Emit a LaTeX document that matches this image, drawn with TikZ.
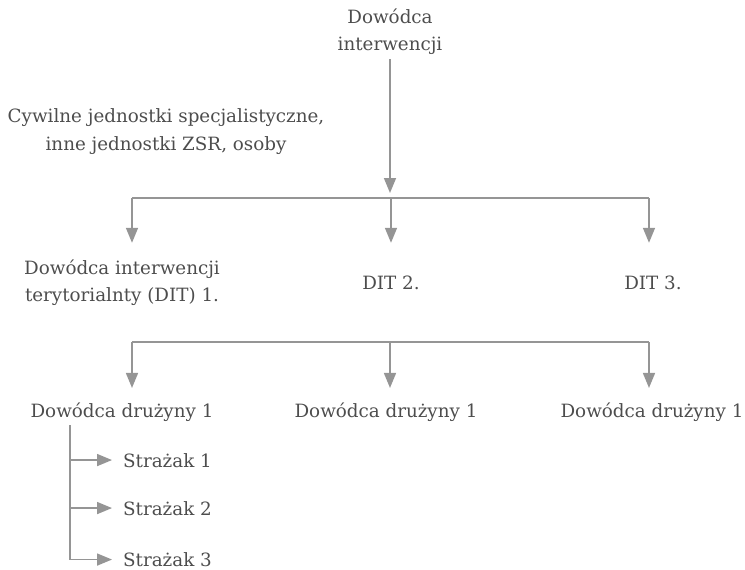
\documentclass[tikz,border=0pt]{standalone}
\usepackage{fontspec}
\setmainfont{DejaVu Serif}
\usetikzlibrary{arrows.meta,calc}
\definecolor{txt}{HTML}{4D4D4D}
\definecolor{ln}{HTML}{959595}
\begin{document}
\begin{tikzpicture}[x=1pt,y=-1pt,
  lbl/.style={text=txt, font=\fontsize{18.3}{27.5}\selectfont, inner sep=0pt, align=center},
  rowtwo/.style={lbl, minimum height=50pt},
  crew/.style={lbl, text depth=0pt, anchor=base west},
  wire/.style={draw=ln, line width=1.6pt},
  arr/.style={wire, -{Triangle[length=15pt,width=12pt]}},
]
\useasboundingbox (0,0) rectangle (745,570);

% commander and supporting units
\node[lbl] (top) at (390,31.5) {Dowódca\\interwencji};
\node[lbl] (civ) at (166,131.5) {Cywilne jednostki specjalistyczne,\\inne jednostki ZSR, osoby};

% territorial commanders
\node[rowtwo] (dit1) at (122,282.5) {Dowódca interwencji\\terytorialnty (DIT) 1.};
\node[rowtwo] (dit2) at (391,282.5) {DIT 2.};
\node[rowtwo] (dit3) at (653,282.5) {DIT 3.};

% squad leaders
\node[lbl] (dd1) at (122,412) {Dowódca drużyny 1};
\node[lbl] (dd2) at (386,412) {Dowódca drużyny 1};
\node[lbl] (dd3) at (652,412) {Dowódca drużyny 1};

% firefighters
\node[crew] (s1) at (123,467) {Strażak 1};
\node[crew] (s2) at (123,515) {Strażak 2};
\node[crew] (s3) at (123,566.5) {Strażak 3};

% distribution bars
\coordinate (b1l) at (132,198);
\coordinate (b1m) at (391,198);
\coordinate (b1r) at (649,198);
\coordinate (b2l) at (132,342);
\coordinate (b2m) at (390,342);
\coordinate (b2r) at (649,342);
\coordinate (sp) at (70,425);

\draw[arr, shorten <=4.5pt, shorten >=5pt] (top.south) -- (top.south |- b1m);
\draw[wire] (b1l) -- (b1r);
\draw[arr, shorten >=14.5pt] (b1l) -- (b1l |- dit1.north);
\draw[arr, shorten >=14.5pt] (b1m) -- (b1m |- dit2.north);
\draw[arr, shorten >=14.5pt] (b1r) -- (b1r |- dit3.north);

\draw[wire] (b2l) -- (b2r);
\draw[arr, shorten >=14.5pt] (b2l) -- (b2l |- dd1.north);
\draw[arr, shorten >=14.5pt] (b2m) -- (b2m |- dd2.north);
\draw[arr, shorten >=14.5pt] (b2r) -- (b2r |- dd3.north);

\draw[arr, shorten >=11pt] (sp) |- (s1.west);
\draw[arr, shorten >=11pt] (sp) |- (s2.west);
\draw[arr, shorten >=11pt] (sp) |- (s3.west);
\end{tikzpicture}
\end{document}
